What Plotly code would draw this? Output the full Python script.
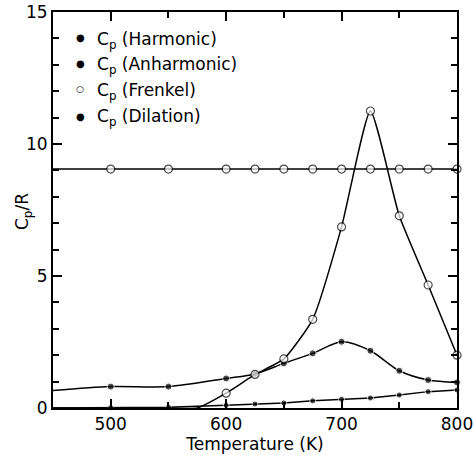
import plotly.graph_objects as go

# Data
T_harm = [450, 500, 550, 600, 625, 650, 675, 700, 725, 750, 775, 800]
cp_harm = [9.05, 9.05, 9.05, 9.05, 9.05, 9.05, 9.05, 9.05, 9.05, 9.05, 9.05, 9.05]

T_anh = [450, 500, 550, 600, 625, 650, 675, 700, 725, 750, 775, 800]
cp_anh = [0.66, 0.81, 0.81, 1.12, 1.29, 1.69, 2.07, 2.51, 2.17, 1.41, 1.06, 0.97]

T_frk = [450, 500, 550, 575, 600, 625, 650, 675, 700, 725, 750, 775, 800]
cp_frk = [0.0, 0.0, 0.0, 0.0, 0.56, 1.27, 1.86, 3.36, 6.86, 11.25, 7.28, 4.66, 2.0]

T_dil = [450, 500, 550, 600, 625, 650, 675, 700, 725, 750, 775, 800]
cp_dil = [0.0, 0.01, 0.03, 0.1, 0.15, 0.19, 0.27, 0.33, 0.38, 0.49, 0.62, 0.68]

legend_labels = ["C<sub>p</sub> (Harmonic)", "C<sub>p</sub> (Anharmonic)",
                 "C<sub>p</sub> (Frenkel)", "C<sub>p</sub> (Dilation)"]
legend_open = [False, False, True, False]

FONT = "DejaVu Sans"
W, H = 473, 455
L, R, T, B = 53, 16, 12, 47

def msizes(xs, ys, skip_first=True, zero_hide=False):
    out = []
    for i, (x, y) in enumerate(zip(xs, ys)):
        if skip_first and i == 0:
            out.append(0)
        elif zero_hide and y == 0:
            out.append(0)
        else:
            out.append(8)
    return out

fig = go.Figure()

line = dict(color="black", width=1.5)
open_marker_line = dict(color="black", width=1.2)

fig.add_trace(go.Scatter(x=T_harm, y=cp_harm, mode="lines+markers", line=line,
                         marker=dict(symbol="circle", size=msizes(T_harm, cp_harm), color="white",
                                     line=open_marker_line),
                         showlegend=False, cliponaxis=False))
fig.add_trace(go.Scatter(x=T_dil, y=cp_dil, mode="lines+markers", line=line,
                         marker=dict(symbol="circle", size=[0] + [6] * (len(T_dil) - 1), color="black"),
                         showlegend=False, cliponaxis=False))
fig.add_trace(go.Scatter(x=T_anh, y=cp_anh, mode="lines+markers",
                         line=dict(color="black", width=1.5, shape="spline", smoothing=0.8),
                         marker=dict(symbol="circle", size=[0] + [7] * (len(T_anh) - 1), color="black"),
                         showlegend=False, cliponaxis=False))
fig.add_trace(go.Scatter(x=T_frk, y=cp_frk, mode="lines+markers",
                         line=dict(color="black", width=1.5, shape="spline", smoothing=0.5),
                         marker=dict(symbol="circle", size=msizes(T_frk, cp_frk, zero_hide=True), color="white",
                                     line=open_marker_line),
                         showlegend=False, cliponaxis=False))

pw = W - L - R
ph = H - T - B

def px2x(px):
    return (px - L) / pw

def py2y(py):
    return (H - B - py) / ph

annotations = []
rows_y = [38, 63, 89, 116]
for lab, op, yy in zip(legend_labels, legend_open, rows_y):
    annotations.append(dict(x=px2x(80), y=py2y(yy), xref="paper", yref="paper",
                            text="○" if op else "●", showarrow=False,
                            font=dict(family=FONT, size=9 if op else 10, color="black"),
                            xanchor="center", yanchor="middle"))
    annotations.append(dict(x=px2x(95), y=py2y(yy + 2), xref="paper", yref="paper",
                            text=lab, showarrow=False,
                            font=dict(family=FONT, size=17, color="black"),
                            xanchor="left", yanchor="middle"))

annotations.append(dict(x=px2x(24), y=py2y(212), xref="paper", yref="paper",
                        text="C<sub>p</sub>/R", textangle=-90, showarrow=False,
                        font=dict(family=FONT, size=17, color="black"),
                        xanchor="center", yanchor="middle"))

axis_common = dict(showline=True, linecolor="black", linewidth=2, mirror="allticks",
                   ticks="inside", tickcolor="black", tickwidth=1.5, ticklen=9,
                   showgrid=False, zeroline=False, automargin=False,
                   ticklabeloverflow="allow",
                   tickfont=dict(family=FONT, size=17, color="black"))

fig.update_layout(
    template="none",
    width=W, height=H,
    margin=dict(l=L, r=R, t=T, b=B, autoexpand=False),
    paper_bgcolor="white", plot_bgcolor="white",
    xaxis=dict(range=[450, 800], tickvals=[500, 600, 700, 800],
               minor=dict(dtick=50, tick0=450, ticks="inside", ticklen=6, tickcolor="black", tickwidth=1.5),
               title=dict(text="Temperature (K)", font=dict(family=FONT, size=17, color="black"), standoff=2),
               **axis_common),
    yaxis=dict(range=[0, 15], tickvals=[0, 5, 10, 15],
               minor=dict(dtick=1, tick0=0, ticks="inside", ticklen=6, tickcolor="black", tickwidth=1.5),
               **axis_common),
    annotations=annotations,
    showlegend=False,
)

fig.write_html("out.html")
